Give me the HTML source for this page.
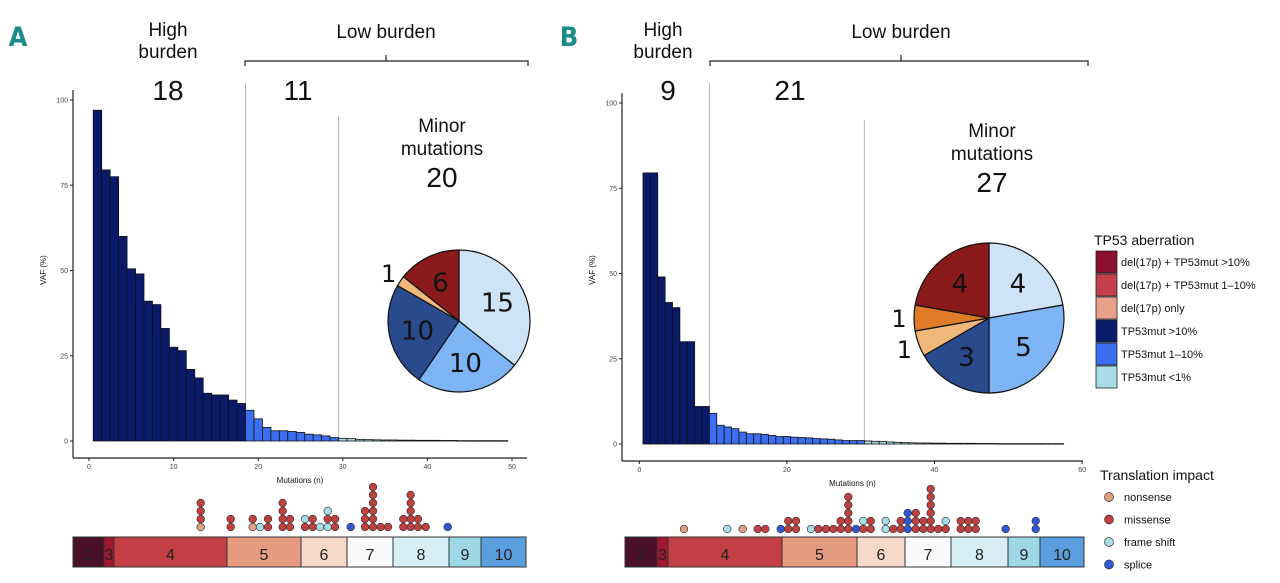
<!DOCTYPE html>
<html><head><meta charset="utf-8"><style>
body{margin:0;background:#fff;width:1280px;height:583px;overflow:hidden}
svg{display:block;font-family:"Liberation Sans",sans-serif}
</style></head><body>
<svg id="fig" width="1280" height="583" xmlns="http://www.w3.org/2000/svg"></svg>
<script>
const vafA=[97,79.5,77.5,60,50.5,49,41,40,33,27.5,26.5,21,18.5,14,13.5,13.5,12,11,9,6.5,4,3,3,2.8,2.5,2,1.8,1.5,1,0.8,0.7,0.5,0.4,0.35,0.3,0.3,0.25,0.25,0.2,0.2,0.2,0.15,0.15,0.1,0.1,0.1,0.1,0.1,0.1];
const vafB=[79.5,79.5,49,41.5,40,30,30,11,11,9,5.5,5,4.5,3.5,3,3,2.8,2.5,2.2,2.2,2,1.9,1.8,1.6,1.5,1.4,1.2,1,1,1,0.9,0.8,0.7,0.6,0.5,0.4,0.35,0.3,0.3,0.25,0.25,0.2,0.2,0.2,0.2,0.15,0.15,0.15,0.1,0.1,0.1,0.1,0.1,0.1,0.1,0.1,0.1];
const groupsA=[18,11,20];
const groupsB=[9,21,27];
const pieA=[15,10,10,1,6];
const pieAcol=["#cfe3f7","#7db4f5","#2a4a8e","#f0b77a","#8b1a1a"];
const pieB=[4,5,3,1,1,4];
const pieBcol=["#cfe3f7","#7db4f5","#2a4a8e","#f0b77a","#e07b2a","#8b1a1a"];
const yTicks=[0,25,50,75,100];
const xTicksA=[0,10,20,30,40,50];
const xTicksB=[0,20,40,60];
const stripLabels=["2","3","4","5","6","7","8","9","10"];
const stripCols=["#4a1028","#a01830","#c54045","#e69a80","#f6d8c8","#f7f9fa","#d8eef6","#9ed8e6","#5a9ee0"];
const stripA=[73,104,114,227,301,347,393,449,481,526];
const stripB=[625,657,668,782,857,905,951,1008,1040,1084];
const dotColsA=[[200.7,"nmmm"],[230.7,"mm"],[252.7,"nm"],[260,"f"],[268,"mm"],[282.7,"mmmm"],[290,"mm"],[305,"mf"],[312.7,"mm"],[320,"f"],[327.7,"fmf"],[335,"mm"],[350.7,"s"],[365,"mmm"],[373,"mmmmmm"],[380.7,"m"],[388,"m"],[403.3,"mm"],[410.7,"mmmmm"],[418,"mm"],[425.7,"m"],[447.7,"s"]];
const dotColsB=[[684,"n"],[727.3,"f"],[742.7,"n"],[757.7,"m"],[765.3,"m"],[780.7,"s"],[788.3,"mm"],[796,"mm"],[811,"f"],[818.3,"m"],[826,"m"],[833.3,"m"],[840.7,"mm"],[848.3,"mmmmm"],[856,"s"],[863.3,"mf"],[870.7,"mm"],[885.7,"ff"],[893.3,"m"],[900.7,"mm"],[907.7,"sss"],[915.7,"mmm"],[923.3,"mm"],[930.7,"mmmmmm"],[938.3,"m"],[945.7,"mf"],[960.7,"mm"],[968.3,"mm"],[975.7,"mm"],[1005.7,"s"],[1035.7,"ss"]];
const dotColor={n:"#e0a080",m:"#c0403f",f:"#a8dde8",s:"#2f57d8"};

const S=document.getElementById('fig');const NS="http://www.w3.org/2000/svg";
function el(t,a,p){const e=document.createElementNS(NS,t);for(const k in a)e.setAttribute(k,a[k]);(p||S).appendChild(e);return e;}
function txt(x,y,s,sz,anc,extra){const e=el('text',Object.assign({x:x,y:y,'font-size':sz,'text-anchor':anc||'middle',fill:'#111'},extra||{}));e.textContent=s;return e;}

function panel(P){
  const g=el('g',{});
  
  
  const sx=v=>P.x0+v*P.kx, sy=v=>P.y0-v*P.ky;
  // axes
  el('line',{x1:P.ax,y1:sy(100)-10,x2:P.ax,y2:P.axY,stroke:'#222','stroke-width':1.2},g);
  el('line',{x1:P.ax,y1:P.axY,x2:P.axEnd,y2:P.axY,stroke:'#222','stroke-width':1.2},g);
  yTicks.forEach(t=>{el('line',{x1:P.ax-3,x2:P.ax,y1:sy(t),y2:sy(t),stroke:'#222'},g);txt(P.ax-5,sy(t)+2.5,String(t),7,'end',{fill:'#444'});});
  P.xt.forEach(t=>{el('line',{x1:sx(t),x2:sx(t),y1:P.axY,y2:P.axY+3,stroke:'#222'},g);txt(sx(t),P.axY+11,String(t),7,'middle',{fill:'#444'});});
  const yl=txt(P.ax-27,270,'VAF (%)',8,'middle',{transform:`rotate(-90 ${P.ax-27} 270)`});
  
  const xl=txt((P.ax+P.axEnd)/2,P.axY+25,'Mutations (n)',8);
  
  // separators
  const b1=P.groups[0]+0.5,b2=P.groups[0]+P.groups[1]+0.5;
  el('line',{x1:sx(b1),x2:sx(b1),y1:P.sep1Top,y2:P.y0,stroke:'#bbb','stroke-width':1},g);
  el('line',{x1:sx(b2),x2:sx(b2),y1:P.sep2Top,y2:P.y0,stroke:'#bbb','stroke-width':1},g);
  // bars
  P.vals.forEach((v,i)=>{
    const c=i<P.groups[0]?'#0a1a6b':(i<P.groups[0]+P.groups[1]?'#3b6ef0':'#a9d6e0');
    const r=el('rect',{x:sx(i+0.5),y:sy(v),width:P.kx,height:Math.max(v*P.ky,0.5),fill:c,stroke:'#111','stroke-width':0.8},g);
    
    
  });
  // pie
  const tot=P.pie.reduce((a,b)=>a+b,0);let a0=-Math.PI/2;
  P.pie.forEach((v,i)=>{const a1=a0+v/tot*2*Math.PI;const cx=P.pc[0],cy=P.pc[1],r=P.pr;
    const d=`M${cx},${cy}L${cx+r*Math.cos(a0)},${cy+r*Math.sin(a0)}A${r},${r} 0 ${a1-a0>Math.PI?1:0} 1 ${cx+r*Math.cos(a1)},${cy+r*Math.sin(a1)}Z`;
    const p=el('path',{d:d,fill:P.pcol[i],stroke:'#111','stroke-width':1.2},g);
    
    
    const am=(a0+a1)/2;let rr=r*0.6,sz=26;
    if(v/tot<0.07){rr=r*1.2;sz=24;}
    txt(cx+rr*Math.cos(am),cy+rr*Math.sin(am)+9,String(v),sz,'middle',{'font-family':'DejaVu Sans, sans-serif'});
    a0=a1;});
  // strip
  for(let i=0;i<9;i++){const r=el('rect',{x:P.strip[i],y:537,width:P.strip[i+1]-P.strip[i],height:30,fill:stripCols[i],stroke:'#333','stroke-width':1},g);
    
    
    txt((P.strip[i]+P.strip[i+1])/2,560,stripLabels[i],16,'middle',{fill:'#222'});}
  // dots
  P.dots.forEach(([x,s])=>{for(let k=0;k<s.length;k++){const c=el('circle',{cx:x,cy:P.dotY-k*8,r:3.8,fill:dotColor[s[k]],stroke:'#333','stroke-width':0.7},g);
    
    }});
  // annotations
  const L=P.lab;
  txt(L.hx,36,'High',19);txt(L.hx,58,'burden',19);
  txt(L.lx,38,'Low burden',19);
  el('path',{d:`M${L.b0},66V61H${L.lx}V55M${L.lx},61H${L.b1}V66`,fill:'none',stroke:'#222','stroke-width':1.2},g);
  txt(L.n1x,100,String(P.groups[0]),28);txt(L.n2x,100,String(P.groups[1]),28);
  txt(L.mx,L.my,'Minor',19);txt(L.mx,L.my+23,'mutations',19);txt(L.mx,L.my+55,String(P.groups[2]),28);
  txt(L.lt,46,L.letter,27,'middle',{fill:'#1a8a8a','font-weight':'bold','font-family':'DejaVu Sans Condensed, DejaVu Sans, sans-serif'});
}
panel({name:'panel-a',vals:vafA,groups:groupsA,x0:89,kx:8.46,y0:441,ky:3.41,ax:73,axY:458,axEnd:527,xt:xTicksA,sep1Top:83,sep2Top:116,
  pie:pieA,pcol:pieAcol,pc:[459,321],pr:71,strip:stripA,dots:dotColsA,dotY:527,
  lab:{hx:168,lx:386,b0:245,b1:528,n1x:168,n2x:298,mx:442,my:132,lt:18,letter:'A'}});
panel({name:'panel-b',vals:vafB,groups:groupsB,x0:639.3,kx:7.38,y0:444,ky:3.41,ax:622,axY:461,axEnd:1083,xt:xTicksB,sep1Top:83,sep2Top:120,
  pie:pieB,pcol:pieBcol,pc:[989,318],pr:75,strip:stripB,dots:dotColsB,dotY:529,
  lab:{hx:663,lx:901,b0:710,b1:1088,n1x:668,n2x:790,mx:992,my:137,lt:569,letter:'B'}});
// legends
const legLabels=["del(17p) + TP53mut >10%","del(17p) + TP53mut 1\u201310%","del(17p) only","TP53mut >10%","TP53mut 1\u201310%","TP53mut <1%"];
const legCols=["#8b1030","#c5404a","#e8a08a","#0a1a6b","#3b6ef0","#a8dde8"];
txt(1094,245,'TP53 aberration',14,'start');
legLabels.forEach((l,i)=>{const r=el('rect',{x:1096,y:251+i*23,width:21,height:22,fill:legCols[i],stroke:'#222','stroke-width':0.8});
  
  
  txt(1121,266+i*23,l,11,'start');});
const tiLabels=["nonsense","missense","frame shift","splice"];
const tiKeys=["n","m","f","s"];
txt(1100,480,'Translation impact',14,'start');
tiLabels.forEach((l,i)=>{const c=el('circle',{cx:1109,cy:497+i*22.5,r:4.5,fill:dotColor[tiKeys[i]],stroke:'#333','stroke-width':0.7});
  
  
  txt(1124,501+i*22.5,l,11,'start');});
</script>
</body></html>
